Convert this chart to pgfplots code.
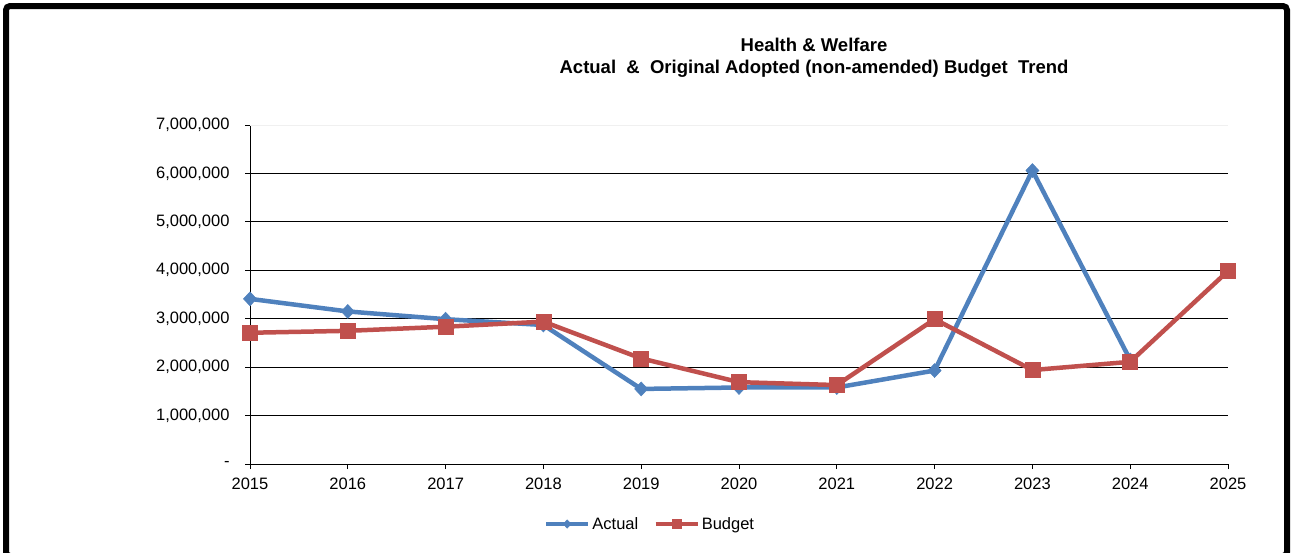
\documentclass[border=0pt]{standalone}
\usepackage{pgfplots}
\pgfplotsset{compat=1.18}
\usepackage{fontspec}
\setmainfont{Liberation Sans}
\definecolor{actblue}{HTML}{4F81BD}
\definecolor{budred}{HTML}{C0504D}
\newcommand\sevenM{7,000,000}
\begin{document}
\begin{tikzpicture}
\useasboundingbox (0bp,0bp) rectangle (1295bp,-553bp);
\draw[line width=6bp, rounded corners=4bp] (6bp,-6bp) rectangle (1287bp,-556bp);
\node[font=\fontsize{18.5bp}{22bp}\selectfont\bfseries, align=center] at (814bp,-58bp) {Health \& Welfare\\Actual \ \&\ \ Original Adopted (non-amended) Budget \ Trend};
\begin{axis}[
  at={(250bp,-464bp)}, anchor=south west,
  scale only axis, width=978bp, height=339bp,
  xmin=2015, xmax=2025, ymin=0, ymax=7000000,
  axis x line*=bottom, axis y line*=left,
  axis line style={-, black, line width=1bp},
  xtick={2015,2016,2017,2018,2019,2020,2021,2022,2023,2024,2025},
  xticklabels={2015,2016,2017,2018,2019,2020,2021,2022,2023,2024,2025},
  ytick={0,1000000,2000000,3000000,4000000,5000000,6000000},
  yticklabels={-,{1,000,000},{2,000,000},{3,000,000},{4,000,000},{5,000,000},{6,000,000}},
  extra y ticks={7000000},
  extra y tick labels={\sevenM},
  extra y tick style={grid style={black!6, line width=1bp}},
  ymajorgrids,
  grid style={black, line width=1bp},
  tick align=outside, major tick length=5bp,
  tick style={black, line width=1bp},
  ticklabel style={font=\fontsize{16.5bp}{19bp}\selectfont},
  y tick label style={xshift=-12bp},
  x tick label style={yshift=-5bp},
  scaled y ticks=false,
  clip=false,
  legend style={at={(0.409,-0.177)}, anchor=center, draw=none, legend columns=2,
    font=\fontsize{16.5bp}{19bp}\selectfont,
    /tikz/every even column/.append style={column sep=13bp}},
  legend image code/.code={\draw[mark repeat=2,mark phase=2,#1,every mark/.append style={scale=0.6}] plot coordinates {(0bp,0bp) (21bp,0bp) (42bp,0bp)};},
]
\addplot[color=actblue, line width=4.5bp, mark=diamond*, mark size=7bp, mark options={line width=0.5bp, xscale=1.25}]
  coordinates {(2015,3410000) (2016,3150000) (2017,2990000) (2018,2870000) (2019,1550000)
               (2020,1580000) (2021,1580000) (2022,1930000) (2023,6060000) (2024,2150000)};
\addlegendentry{Actual}
\addplot[color=budred, line width=4.5bp, mark=square*, mark size=7.5bp, mark options={line width=0.5bp}]
  coordinates {(2015,2710000) (2016,2750000) (2017,2835000) (2018,2940000) (2019,2180000)
               (2020,1690000) (2021,1630000) (2022,2990000) (2023,1940000) (2024,2110000) (2025,3985000)};
\addlegendentry{Budget}
\end{axis}
\end{tikzpicture}
\end{document}
